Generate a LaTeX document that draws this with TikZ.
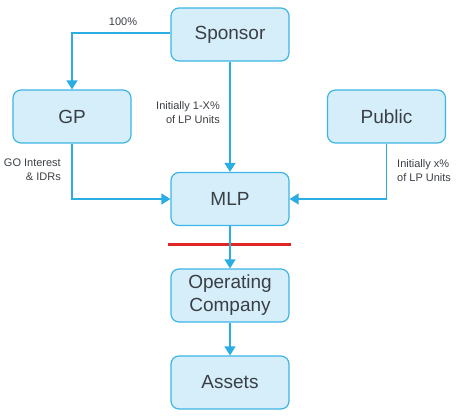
\documentclass[tikz,border=0pt]{standalone}
\usepackage{fontspec}
\setmainfont{Liberation Sans}
\usetikzlibrary{arrows.meta}
\definecolor{boxfill}{HTML}{D5EEFA}
\definecolor{boxline}{HTML}{3DB5E6}
\definecolor{arr}{HTML}{2AADE3}
\definecolor{txt}{HTML}{3A3F45}
\definecolor{redline}{HTML}{E02526}
\begin{document}
\begin{tikzpicture}[x=1pt,y=-1pt,
  ent/.style={draw=boxline,fill=boxfill,line width=1.2pt,rounded corners=8pt,
    minimum width=118pt,minimum height=53pt,inner sep=0pt,text=txt,
    font=\fontsize{19}{23}\selectfont,align=center},
  conn/.style={draw=arr,line width=1.3pt,-{Triangle[width=11pt,length=9pt]}},
  lbl/.style={text=txt,font=\fontsize{11}{14}\selectfont,inner sep=0pt}]
\useasboundingbox (0,0) rectangle (457,415);
\node[ent] (sp) at (230,34.5) {Sponsor};
\node[ent] (gp) at (72,116.5) {GP};
\node[ent] (pub) at (386.5,116.5) {Public};
\node[ent] (mlp) at (230,199) {MLP};
\node[ent] (op) at (230,295.5) {Operating\\Company};
\node[ent] (as) at (230,382.5) {Assets};
\coordinate (rl) at (168,244);
\coordinate (rr) at (291,244);
\draw[redline,line width=3pt] (rl) -- (rr);
\draw[conn] (sp.west |- 0,33) -| (gp.north);
\draw[conn] (sp.south) -- (mlp.north);
\draw[conn] (gp.south) |- (mlp.west);
\draw[conn] (pub.south) |- (mlp.east);
\draw[conn] (mlp.south) -- (op.north);
\draw[conn] (op.south) -- (as.north);
\node[lbl,anchor=base] (l1) at (123,25) {100\%};
\node[lbl,align=right,anchor=north east] (l2) at (220,101) {Initially 1-X\%\\of LP Units};
\node[lbl,align=right,anchor=north east] (l3) at (61,159) {GO Interest\\\& IDRs};
\node[lbl,align=left,anchor=north west] (l4) at (397,159) {Initially x\%\\of LP Units};
\end{tikzpicture}
\end{document}
